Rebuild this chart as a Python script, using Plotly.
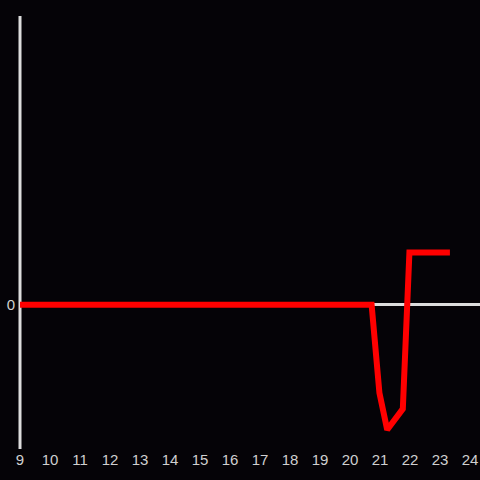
import plotly.graph_objects as go

x_vals = [9, 10, 11, 12, 13, 14, 15, 16, 17, 18, 19, 20, 20.72, 20.98, 21.24, 21.76, 21.98, 23.33]
y_vals = [0, 0, 0, 0, 0, 0, 0, 0, 0, 0, 0, 0, 0, -2.2, -3.12, -2.6, 1.3, 1.3]
x_ticks = list(range(9, 25))

fig = go.Figure()
fig.add_trace(go.Scatter(x=x_vals, y=y_vals, mode="lines",
                         line=dict(color="#ff0000", width=6), hoverinfo="skip"))
# y-axis line drawn along the left edge of the plot area
fig.add_shape(type="line", xref="paper", yref="paper", x0=0, x1=0, y0=0, y1=1,
              line=dict(color="#dddddd", width=3), layer="below")
fig.update_layout(
    width=480, height=480,
    margin=dict(l=20, r=0, t=16, b=31),
    paper_bgcolor="#050307", plot_bgcolor="#050307",
    showlegend=False,
    font=dict(family="Liberation Sans, Arial, sans-serif", size=15, color="#d0d0d0"),
    xaxis=dict(range=[9, 24.333], tickvals=x_ticks, showgrid=False, zeroline=False,
               showline=False, ticks="", tickfont=dict(size=15, color="#d0d0d0")),
    yaxis=dict(range=[-3.6, 7.2], tickvals=[0], showgrid=False, zeroline=True,
               zerolinecolor="#dddddd", zerolinewidth=3, showline=False, ticks="",
               ticklabelstandoff=4,
               tickfont=dict(size=15, color="#d0d0d0")),
)
fig.write_html("out.html", config={"displayModeBar": False},
               post_script="document.body.style.margin='0';document.body.style.background='#050307';")
